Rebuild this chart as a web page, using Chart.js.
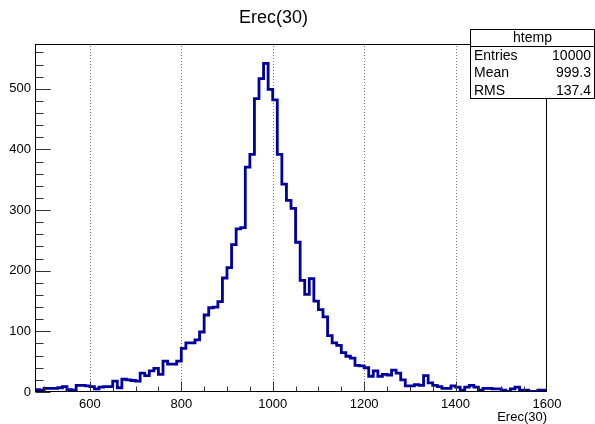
<!DOCTYPE html>
<html>
<head>
<meta charset="utf-8">
<script src="https://cdn.jsdelivr.net/npm/chart.js@4/dist/chart.umd.min.js"></script>
<style>
  html, body { margin: 0; padding: 0; background: #fff; }
  #wrap { width: 595px; height: 424px; }
</style>
</head>
<body>
<div id="wrap"><canvas id="hist" width="595" height="424"></canvas></div>
<script>
// histogram htemp: 112 bins of width 10 between 480 and 1600
const xMin = 480;
const xMax = 1600;
const binWidth = 10;
const counts = [
  4, 4, 3, 6, 6, 6, 7, 9, 4, 3,
  11, 11, 10, 9, 5, 8, 9, 9, 18, 7,
  21, 20, 19, 18, 31, 27, 35, 39, 29, 51,
  46, 46, 51, 72, 81, 81, 86, 99, 127, 139,
  140, 149, 188, 205, 243, 269, 271, 371, 392, 484,
  517, 542, 499, 482, 392, 343, 316, 303, 247, 184,
  161, 187, 150, 136, 124, 93, 81, 77, 65, 59,
  56, 44, 43, 40, 26, 35, 26, 29, 28, 36,
  31, 20, 10, 10, 12, 11, 27, 15, 11, 9,
  6, 6, 10, 8, 3, 8, 11, 8, 3, 6,
  6, 5, 5, 3, 1, 5, 8, 3, 3, 1,
  1, 3
];
const yMax = 574;
const xLabelTicks = [600, 800, 1000, 1200, 1400, 1600];
const yLabelTicks = [0, 100, 200, 300, 400, 500];
const xGridLines = [600, 800, 1000, 1200, 1400];
const statsTitle = 'htemp';
const statsNames = ['Entries', 'Mean', 'RMS'];
const statsValues = ['10000', '999.3', '137.4'];

const FONT = '"Liberation Sans", Arial, Helvetica, sans-serif';

const range = (a, b, step) => {
  const out = [];
  for (let v = a; v <= b + 1e-9; v += step) out.push(v);
  return out;
};
const xMinorTicks = range(500, 1550, 50);
const yMinorTicks = range(20, 560, 20);

// step outline: one point per bin low edge, plus the closing edge
const points = counts.map((c, i) => ({ x: xMin + i * binWidth, y: c }));
points.push({ x: xMax, y: counts[counts.length - 1] });

const rootFrame = {
  id: 'rootFrame',
  beforeDatasetsDraw(chart) {
    const { ctx, chartArea: a, scales: { x } } = chart;
    ctx.save();
    ctx.strokeStyle = '#7a7a7a';
    ctx.lineWidth = 1;
    ctx.setLineDash([1, 2]);
    xGridLines.forEach(v => {
      const px = Math.round(x.getPixelForValue(v)) + 0.5;
      ctx.beginPath();
      ctx.moveTo(px, a.bottom);
      ctx.lineTo(px, a.top);
      ctx.stroke();
    });
    ctx.restore();
  },
  afterDatasetsDraw(chart) {
    const { ctx, chartArea: a, scales: { x, y } } = chart;
    ctx.save();
    ctx.strokeStyle = '#000';
    ctx.lineWidth = 1;
    const l = Math.round(a.left) + 0.5, r = Math.round(a.right) - 0.5;
    const t = Math.round(a.top) + 0.5, b = Math.round(a.bottom) - 0.5;
    ctx.strokeRect(l, t, r - l, b - t);

    ctx.strokeStyle = '#333';
    ctx.beginPath();
    xMinorTicks.forEach(v => {
      const px = Math.round(x.getPixelForValue(v)) + 0.5;
      const len = v % 200 === 0 ? 10 : 5;
      ctx.moveTo(px, b);
      ctx.lineTo(px, b - len);
    });
    yMinorTicks.concat(yLabelTicks).forEach(v => {
      const py = Math.round(y.getPixelForValue(v)) + 0.5;
      const len = v % 100 === 0 ? 15 : 8;
      ctx.moveTo(l, py);
      ctx.lineTo(l + len, py);
    });
    ctx.stroke();
    ctx.restore();
  },
  afterDraw(chart) {
    const { ctx } = chart;
    const bx = 470.5, by = 29.5, bw = 124, bh = 69;
    ctx.save();
    ctx.fillStyle = '#fff';
    ctx.fillRect(bx, by, bw, bh);
    ctx.strokeStyle = '#000';
    ctx.lineWidth = 1;
    ctx.strokeRect(bx, by, bw, bh);
    ctx.beginPath();
    ctx.moveTo(bx, 46.5);
    ctx.lineTo(bx + bw, 46.5);
    ctx.stroke();

    ctx.fillStyle = '#000';
    ctx.font = '14px ' + FONT;
    ctx.textBaseline = 'middle';
    ctx.textAlign = 'center';
    ctx.fillText(statsTitle, bx + bw / 2, 38.5);
    statsNames.forEach((name, i) => {
      const ty = 56 + i * 17.5;
      ctx.textAlign = 'left';
      ctx.fillText(name, 474, ty);
      ctx.textAlign = 'right';
      ctx.fillText(statsValues[i], 591, ty);
    });
    ctx.restore();
  }
};

new Chart(document.getElementById('hist'), {
  type: 'line',
  data: {
    datasets: [{
      label: 'htemp',
      data: points,
      stepped: 'after',
      borderColor: '#00009c',
      borderWidth: 2.8,
      borderCapStyle: 'butt',
      borderJoinStyle: 'miter',
      pointRadius: 0,
      fill: false,
      tension: 0
    }]
  },
  options: {
    responsive: false,
    animation: false,
    layout: { padding: { top: 0, right: 48, bottom: 0, left: 0 } },
    plugins: {
      legend: { display: false },
      tooltip: { enabled: false },
      title: {
        display: true,
        text: 'Erec(30)',
        color: '#000',
        font: { family: FONT, size: 18, weight: 'normal', lineHeight: 1 },
        padding: { top: 9, bottom: 17 }
      }
    },
    scales: {
      x: {
        type: 'linear',
        min: xMin,
        max: xMax,
        grid: { display: false, drawTicks: false },
        border: { display: false },
        afterBuildTicks: s => { s.ticks = xLabelTicks.map(v => ({ value: v })); },
        afterFit: s => { s.height = 32; },
        ticks: {
          autoSkip: false,
          maxRotation: 0,
          padding: 5,
          color: '#000',
          font: { family: FONT, size: 13 },
          callback: v => String(v)
        },
        title: {
          display: true,
          text: 'Erec(30)',
          align: 'end',
          color: '#000',
          font: { family: FONT, size: 13, lineHeight: 1 },
          padding: { top: 0, bottom: 0 }
        }
      },
      y: {
        min: 0,
        max: yMax,
        grid: { display: false, drawTicks: false },
        border: { display: false },
        afterBuildTicks: s => { s.ticks = yLabelTicks.map(v => ({ value: v })); },
        afterFit: s => { s.width = 35; },
        ticks: {
          padding: 4,
          color: '#000',
          font: { family: FONT, size: 13 },
          callback: v => String(v)
        }
      }
    }
  },
  plugins: [rootFrame]
});
</script>
</body>
</html>
